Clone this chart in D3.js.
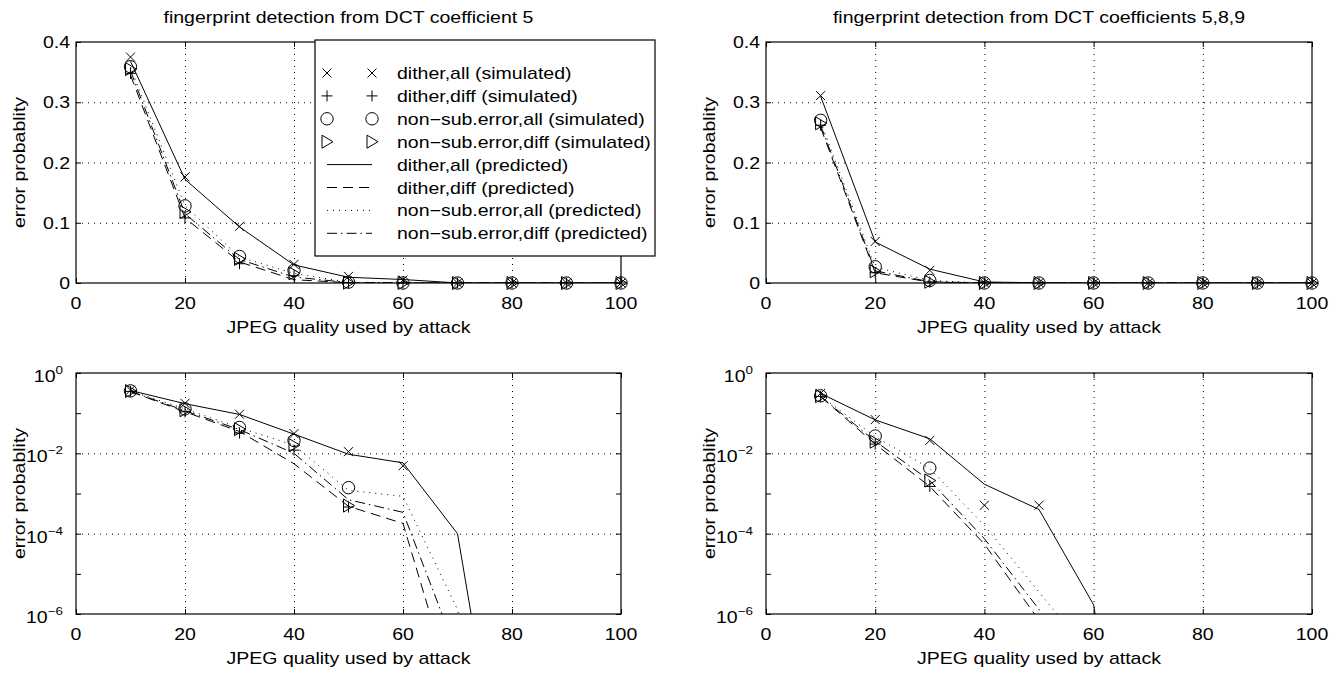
<!DOCTYPE html>
<html>
<head>
<meta charset="utf-8">
<script src="https://cdn.jsdelivr.net/npm/d3@7"></script>
<style>
  html, body { margin: 0; padding: 0; background: #fff; }
  svg { display: block; font-family: "Liberation Sans", Arial, Helvetica, sans-serif; }
</style>
</head>
<body>
<svg id="chart" width="1343" height="673"></svg>
<script>
// JPEG quality values used by the attack (x axis)
const quality = [10, 20, 30, 40, 50, 60, 70, 80, 90, 100];

const xTicks = [0, 20, 40, 60, 80, 100];
const linTicks = [0, 0.1, 0.2, 0.3, 0.4];
const logTicks = [1e-6, 1e-4, 1e-2, 1];
const logMinor = [1e-5, 1e-3, 1e-1];
const logExp = ["\u22126", "\u22124", "\u22122", "0"];

const legendLabels = [
  "dither,all (simulated)",
  "dither,diff (simulated)",
  "non\u2212sub.error,all (simulated)",
  "non\u2212sub.error,diff (simulated)",
  "dither,all (predicted)",
  "dither,diff (predicted)",
  "non\u2212sub.error,all (predicted)",
  "non\u2212sub.error,diff (predicted)"
];

// DCT coefficient 5 : simulated (markers)
const c5SimDitherAll  = [0.375, 0.176, 0.094, 0.031, 0.011, 0.0049, 0, 0, 0, 0];
const c5SimDitherDiff = [0.348, 0.108, 0.032, 0.012, 4.6e-4, 0, 0, 0, 0, 0];
const c5SimNonsubAll  = [0.359, 0.128, 0.044, 0.021, 1.4e-3, 0, 0, 0, 0, 0];
const c5SimNonsubDiff = [0.355, 0.118, 0.040, 0.016, 5.0e-4, 0, 0, 0, 0, 0];
// DCT coefficient 5 : predicted (lines)
const c5PredDitherAll  = [0.368, 0.172, 0.093, 0.030, 0.0095, 0.0058, 1.0e-4, 1e-12, 1e-16, 1e-20];
const c5PredDitherDiff = [0.345, 0.108, 0.035, 0.0055, 4.8e-4, 1.8e-4, 5e-9, 1e-15, 1e-19, 1e-23];
const c5PredNonsubAll  = [0.358, 0.128, 0.043, 0.016, 1.2e-3, 8.5e-4, 1.3e-6, 1e-12, 1e-16, 1e-20];
const c5PredNonsubDiff = [0.352, 0.115, 0.039, 0.010, 7e-4, 3.4e-4, 1e-7, 1e-14, 1e-18, 1e-22];

// DCT coefficients 5,8,9 : simulated (markers)
const c589SimDitherAll  = [0.311, 0.069, 0.021, 5.1e-4, 5.1e-4, 0, 0, 0, 0, 0];
const c589SimDitherDiff = [0.262, 0.017, 1.5e-3, 0, 0, 0, 0, 0, 0, 0];
const c589SimNonsubAll  = [0.270, 0.027, 4.3e-3, 0, 0, 0, 0, 0, 0, 0];
const c589SimNonsubDiff = [0.265, 0.0195, 2.1e-3, 0, 0, 0, 0, 0, 0, 0];
// DCT coefficients 5,8,9 : predicted (lines)
const c589PredDitherAll  = [0.310, 0.068, 0.023, 1.7e-3, 4.0e-4, 1.7e-6, 1e-14, 1e-18, 1e-22, 1e-26];
const c589PredDitherDiff = [0.258, 0.017, 1.5e-3, 5.5e-5, 7e-7, 1e-11, 1e-15, 1e-19, 1e-23, 1e-27];
const c589PredNonsubAll  = [0.268, 0.026, 4.2e-3, 1.6e-4, 3.5e-6, 8e-8, 1e-12, 1e-16, 1e-20, 1e-24];
const c589PredNonsubDiff = [0.262, 0.020, 2.1e-3, 7.5e-5, 1.3e-6, 1e-10, 1e-14, 1e-18, 1e-22, 1e-26];

const dataSets = [
  { sim: [c5SimDitherAll, c5SimDitherDiff, c5SimNonsubAll, c5SimNonsubDiff],
    pred: [c5PredDitherAll, c5PredDitherDiff, c5PredNonsubAll, c5PredNonsubDiff] },
  { sim: [c589SimDitherAll, c589SimDitherDiff, c589SimNonsubAll, c589SimNonsubDiff],
    pred: [c589PredDitherAll, c589PredDitherDiff, c589PredNonsubAll, c589PredNonsubDiff] }
];

// styles
const SX = 1.22;           // text is drawn a bit wider than the font, like the original figure
const FS = 16;
const markerShapes = ["x", "+", "o", ">"];
const dashes = [null, "10,6", "1,5", "10,4,1.5,4"];

const panels = [
  { left: 76,  right: 621,  top: 42,  bottom: 283, type: "linear", set: 0,
    title: "fingerprint detection from DCT coefficient 5", legend: true },
  { left: 766, right: 1312, top: 42,  bottom: 283, type: "linear", set: 1,
    title: "fingerprint detection from DCT coefficients 5,8,9" },
  { left: 76,  right: 621,  top: 373, bottom: 614, type: "log", set: 0 },
  { left: 766, right: 1312, top: 373, bottom: 614, type: "log", set: 1 }
];

const svg = d3.select("#chart");

function label(parent, x, y, str, anchor, size) {
  return parent.append("text")
    .attr("transform", `translate(${x},${y}) scale(${SX},1)`)
    .attr("text-anchor", anchor || "middle")
    .style("font-size", (size || FS) + "px")
    .attr("fill", "#000")
    .text(str);
}

function markerPath(shape) {
  if (shape === "x") return "M-4.5,-4.5L4.5,4.5M-4.5,4.5L4.5,-4.5";
  if (shape === "+") return "M-5.5,0L5.5,0M0,-5.5L0,5.5";
  if (shape === "o") return d3.arc()({ innerRadius: 0, outerRadius: 6.2, startAngle: 0, endAngle: 2 * Math.PI });
  return "M-5,-6.5L-5,6.5L6,0Z";
}

function drawMarker(parent, cx, cy, shape) {
  parent.append("path")
    .attr("transform", `translate(${cx},${cy})`)
    .attr("d", markerPath(shape))
    .attr("fill", "none")
    .attr("stroke", "#000")
    .attr("stroke-width", 1);
}

panels.forEach((p, pi) => {
  const g = svg.append("g");
  const w = p.right - p.left, h = p.bottom - p.top;
  const x = d3.scaleLinear().domain([0, 100]).range([p.left, p.right]);
  const y = p.type === "log"
    ? d3.scaleLog().domain([1e-6, 1]).range([p.bottom, p.top])
    : d3.scaleLinear().domain([0, 0.4]).range([p.bottom, p.top]);
  const yTicks = p.type === "log" ? logTicks : linTicks;

  // dotted grid
  const grid = g.append("g").attr("class", "grid");
  grid.append("g")
    .attr("transform", `translate(0,${p.bottom})`)
    .call(d3.axisBottom(x).tickValues(xTicks.slice(1, -1)).tickSize(-h).tickFormat(""));
  grid.append("g")
    .attr("transform", `translate(${p.left},0)`)
    .call(d3.axisLeft(y).tickValues(yTicks.slice(1, -1)).tickSize(-w).tickFormat(""));
  grid.selectAll(".domain").remove();
  grid.selectAll("line").attr("stroke", "#000").attr("stroke-width", 1).attr("stroke-dasharray", "1,5");

  // inward ticks on all four sides
  const tk = g.append("g").attr("class", "ticks");
  tk.append("g").attr("transform", `translate(0,${p.bottom})`)
    .call(d3.axisBottom(x).tickValues(xTicks).tickSize(-5).tickFormat(""));
  tk.append("g").attr("transform", `translate(0,${p.top})`)
    .call(d3.axisTop(x).tickValues(xTicks).tickSize(-5).tickFormat(""));
  const yAll = p.type === "log" ? logTicks.concat(logMinor) : linTicks;
  tk.append("g").attr("transform", `translate(${p.left},0)`)
    .call(d3.axisLeft(y).tickValues(yAll).tickSize(-5).tickFormat(""));
  tk.append("g").attr("transform", `translate(${p.right},0)`)
    .call(d3.axisRight(y).tickValues(yAll).tickSize(-5).tickFormat(""));
  tk.selectAll(".domain").remove();
  tk.selectAll("text").remove();
  tk.selectAll("line").attr("stroke", "#000").attr("stroke-width", 1);

  // box
  g.append("rect")
    .attr("x", p.left).attr("y", p.top).attr("width", w).attr("height", h)
    .attr("fill", "none").attr("stroke", "#000").attr("stroke-width", 1.2);

  // tick labels
  xTicks.forEach(t => label(g, x(t), p.bottom + 26, String(t), "middle"));
  if (p.type === "log") {
    logTicks.forEach((t, i) => {
      const txt = g.append("text")
        .attr("transform", `translate(${p.left - 13},${y(t) + 9}) scale(${SX},1)`)
        .attr("text-anchor", "end")
        .style("font-size", FS + "px");
      txt.append("tspan").text("10");
      txt.append("tspan").attr("dy", -8).style("font-size", "11px").text(logExp[i]);
    });
  } else {
    linTicks.forEach(t => label(g, p.left - 6, y(t) + 6, t === 0 ? "0" : d3.format(".1f")(t), "end"));
  }

  // axis labels and title
  label(g, (p.left + p.right) / 2, p.bottom + 50, "JPEG quality used by attack", "middle");
  g.append("text")
    .attr("transform", `translate(${p.left - 51},${(p.top + p.bottom) / 2}) rotate(-90) scale(${SX},1)`)
    .attr("text-anchor", "middle")
    .style("font-size", FS + "px")
    .text("error probablity");
  if (p.title) label(g, (p.left + p.right) / 2, p.top - 19, p.title, "middle");

  // predicted curves, clipped to the axes
  const clipId = "clip" + pi;
  svg.append("clipPath").attr("id", clipId)
    .append("rect").attr("x", p.left).attr("y", p.top).attr("width", w).attr("height", h);
  const ds = dataSets[p.set];
  const line = d3.line().x(d => x(d[0])).y(d => y(d[1]));
  const lines = g.append("g").attr("clip-path", `url(#${clipId})`);
  ds.pred.forEach((vals, si) => {
    const pts = quality.map((q, i) => [q, vals[i]]).filter(d => p.type !== "log" || d[1] > 0);
    lines.append("path")
      .attr("d", line(pts))
      .attr("fill", "none")
      .attr("stroke", "#000")
      .attr("stroke-width", 1)
      .attr("stroke-dasharray", dashes[si]);
  });

  // simulated markers (not clipped, zeros are dropped on the log axes)
  const mk = g.append("g");
  ds.sim.forEach((vals, si) => {
    quality.forEach((q, i) => {
      const v = vals[i];
      if (p.type === "log" && !(v > 0)) return;
      drawMarker(mk, x(q), y(v), markerShapes[si]);
    });
  });

  // legend
  if (p.legend) {
    const lg = g.append("g");
    lg.append("rect")
      .attr("x", 315).attr("y", 40).attr("width", 340).attr("height", 216)
      .attr("fill", "#fff").attr("stroke", "#000").attr("stroke-width", 1.2);
    legendLabels.forEach((name, i) => {
      const cy = 73 + i * 22.9;
      if (i < 4) {
        drawMarker(lg, 327, cy, markerShapes[i]);
        drawMarker(lg, 372, cy, markerShapes[i]);
      } else {
        lg.append("line")
          .attr("x1", 327).attr("x2", 372).attr("y1", cy).attr("y2", cy)
          .attr("stroke", "#000").attr("stroke-width", 1)
          .attr("stroke-dasharray", dashes[i - 4]);
      }
      label(lg, 397, cy + 6, name, "start");
    });
  }
});
</script>
</body>
</html>
